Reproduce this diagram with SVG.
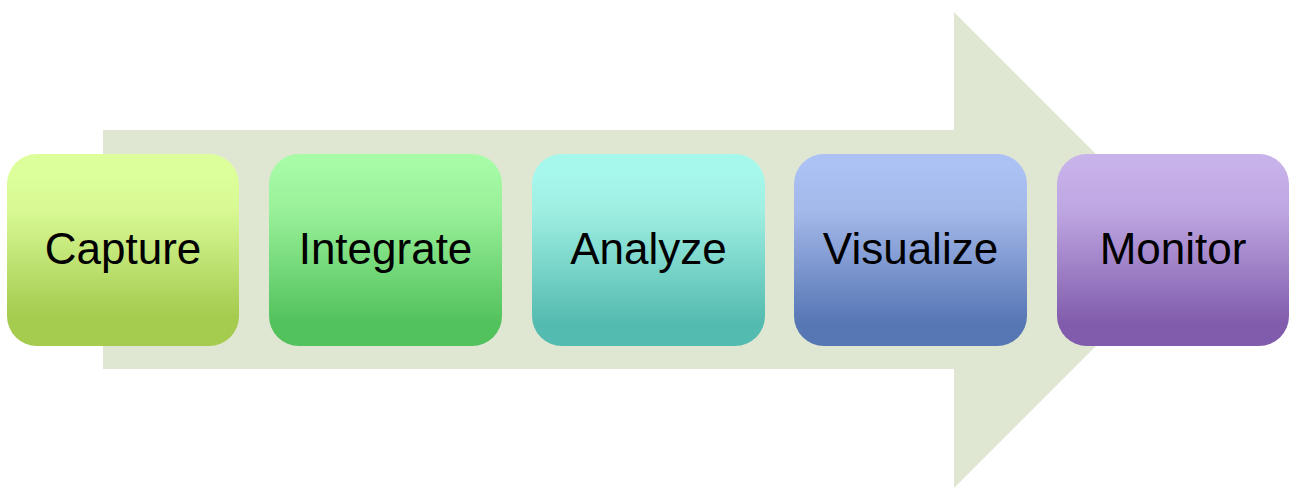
<svg xmlns="http://www.w3.org/2000/svg" width="1294" height="489" viewBox="0 0 1294 489">
<style>
.box{stroke:none}
.lbl{font-family:"Liberation Sans","Open Sans",sans-serif;font-size:44px;fill:#000;text-anchor:middle}
</style>
<defs>
<linearGradient id="g1" x1="0" y1="0" x2="0" y2="1"><stop offset="0.1" stop-color="#DDFF9B"/><stop offset="0.3" stop-color="#D7F893"/><stop offset="0.85" stop-color="#A5CB4F"/></linearGradient>
<linearGradient id="g2" x1="0" y1="0" x2="0" y2="1"><stop offset="0.05" stop-color="#A7FBA7"/><stop offset="0.3" stop-color="#98F098"/><stop offset="0.88" stop-color="#52C25C"/></linearGradient>
<linearGradient id="g3" x1="0" y1="0" x2="0" y2="1"><stop offset="0.1" stop-color="#A7F8EC"/><stop offset="0.3" stop-color="#9EEEE2"/><stop offset="0.88" stop-color="#54BBB0"/></linearGradient>
<linearGradient id="g4" x1="0" y1="0" x2="0" y2="1"><stop offset="0.05" stop-color="#ACC2F4"/><stop offset="0.3" stop-color="#A4B8EA"/><stop offset="0.88" stop-color="#5676B4"/></linearGradient>
<linearGradient id="g5" x1="0" y1="0" x2="0" y2="1"><stop offset="0.05" stop-color="#C8B2EA"/><stop offset="0.3" stop-color="#BEA6E2"/><stop offset="0.88" stop-color="#815CAC"/></linearGradient>
</defs>
<g id="arrow"><polygon points="103,130 954,130 954,12 1192,250 954,488 954,369 103,369" fill="#DFE7D3"/></g>
<g id="connectors"></g>
<g id="capture"><rect class="box" x="7" y="154" width="232" height="192" rx="30" fill="url(#g1)"/><text class="lbl" x="123" y="264">Capture</text></g>
<g id="integrate"><rect class="box" x="269" y="154" width="233" height="192" rx="30" fill="url(#g2)"/><text class="lbl" x="385.5" y="264">Integrate</text></g>
<g id="analyze"><rect class="box" x="532" y="154" width="233" height="192" rx="30" fill="url(#g3)"/><text class="lbl" x="648.5" y="264">Analyze</text></g>
<g id="visualize"><rect class="box" x="794" y="154" width="233" height="192" rx="30" fill="url(#g4)"/><text class="lbl" x="910.5" y="264">Visualize</text></g>
<g id="monitor"><rect class="box" x="1057" y="154" width="232" height="192" rx="30" fill="url(#g5)"/><text class="lbl" x="1173" y="264">Monitor</text></g>
</svg>
